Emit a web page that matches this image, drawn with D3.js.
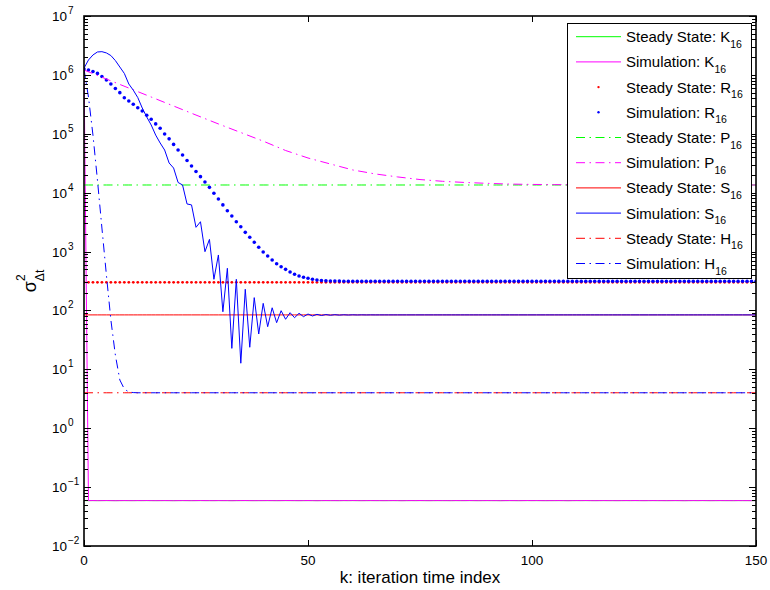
<!DOCTYPE html>
<html>
<head>
<meta charset="utf-8">
<script src="https://cdn.jsdelivr.net/npm/d3@7"></script>
<style>
  body { margin: 0; background: #fff; }
  svg { display: block; font-family: "Liberation Sans", Arial, Helvetica, sans-serif; }
</style>
</head>
<body>
<svg id="chart" width="770" height="590"></svg>
<script>
// ---- data ---------------------------------------------------------------
// iteration index k = 0 .. 150
const iterations = d3.range(0, 151);

// steady-state variances (constant over k)
const steadyK = 0.059;
const steadyR = 300;
const steadyP = 1.35e4;
const steadyS = 84;
const steadyH = 4.0;

// simulated variance of K, one value per iteration
const simK = [
  1.3e6, 0.0590, 0.0591, 0.0589, 0.0590, 0.0592, 0.0590, 0.0588, 0.0590, 0.0591,
  0.0590, 0.0589, 0.0591, 0.0590, 0.0592, 0.0590, 0.0589, 0.0590, 0.0591, 0.0590,
  0.0588, 0.0590, 0.0591, 0.0590, 0.0589, 0.0590, 0.0592, 0.0590, 0.0590, 0.0589,
  0.0591, 0.0590, 0.0590, 0.0588, 0.0590, 0.0591, 0.0592, 0.0590, 0.0589, 0.0590,
  0.0590, 0.0591, 0.0590, 0.0589, 0.0590, 0.0592, 0.0591, 0.0590, 0.0589, 0.0590,
  0.0591, 0.0590, 0.0588, 0.0590, 0.0591, 0.0590, 0.0590, 0.0589, 0.0591, 0.0590,
  0.0592, 0.0590, 0.0589, 0.0590, 0.0591, 0.0590, 0.0590, 0.0589, 0.0590, 0.0591,
  0.0590, 0.0588, 0.0590, 0.0591, 0.0590, 0.0592, 0.0590, 0.0589, 0.0590, 0.0591,
  0.0590, 0.0590, 0.0589, 0.0591, 0.0590, 0.0590, 0.0592, 0.0590, 0.0589, 0.0590,
  0.0591, 0.0590, 0.0590, 0.0588, 0.0590, 0.0591, 0.0590, 0.0589, 0.0590, 0.0592,
  0.0590, 0.0591, 0.0590, 0.0589, 0.0590, 0.0590, 0.0591, 0.0590, 0.0588, 0.0590,
  0.0591, 0.0590, 0.0592, 0.0590, 0.0589, 0.0590, 0.0591, 0.0590, 0.0590, 0.0589,
  0.0590, 0.0591, 0.0590, 0.0592, 0.0590, 0.0589, 0.0590, 0.0591, 0.0590, 0.0590,
  0.0589, 0.0590, 0.0591, 0.0590, 0.0588, 0.0590, 0.0591, 0.0590, 0.0592, 0.0590,
  0.0589, 0.0590, 0.0591, 0.0590, 0.0590, 0.0589, 0.0591, 0.0590, 0.0590, 0.0589,
  0.0590
];

// simulated variance of R
const simR = [
  1.26e6, 1.21e6, 1.14e6, 1.06e6, 9.4e5, 8.2e5, 7.0e5, 5.87e5, 4.99e5, 4.10e5,
  3.61e5, 3.17e5, 2.77e5, 2.44e5, 2.06e5, 1.76e5, 1.47e5, 1.24e5, 9.9e4, 8.2e4,
  6.6e4, 5.3e4, 4.36e4, 3.52e4, 2.84e4, 2.29e4, 1.87e4, 1.52e4, 1.23e4, 9.8e3,
  7.8e3, 6.2e3, 4.94e3, 4.02e3, 3.21e3, 2.64e3, 2.12e3, 1.75e3, 1.44e3, 1.18e3,
  982, 840, 719, 622, 553, 499, 450, 411, 385, 366,
  352, 338, 329, 322, 318, 316, 315, 315, 314, 314,
  314, 314, 314, 314, 314, 314, 314, 314, 314, 314,
  314, 314, 314, 314, 314, 314, 314, 314, 314, 314,
  314, 314, 314, 314, 314, 314, 314, 314, 314, 314,
  314, 314, 314, 314, 314, 314, 314, 314, 314, 314,
  314, 314, 314, 314, 314, 314, 314, 314, 314, 314,
  314, 314, 314, 314, 314, 314, 314, 314, 314, 314,
  314, 314, 314, 314, 314, 314, 314, 314, 314, 314,
  314, 314, 314, 314, 314, 314, 314, 314, 314, 314,
  314, 314, 314, 314, 314, 314, 314, 314, 314, 314,
  314
];

// simulated variance of P, every fifth iteration
const simPIter = [
  0, 5, 10, 15, 20, 25, 30, 35, 40, 45,
  50, 55, 60, 65, 70, 75, 80, 85, 90, 95,
  100, 105, 110, 115, 120, 125, 130, 135, 140, 145, 150
];
const simP = [
  1.21e6, 8.5e5, 5.98e5, 4.21e5, 2.96e5, 2.08e5, 1.47e5, 1.05e5, 7.5e4, 5.2e4,
  3.88e4, 3.07e4, 2.43e4, 2.08e4, 1.85e4, 1.67e4, 1.56e4, 1.49e4, 1.44e4, 1.40e4,
  1.38e4, 1.37e4, 1.36e4, 1.36e4, 1.355e4, 1.35e4, 1.35e4, 1.35e4, 1.35e4, 1.35e4, 1.35e4
];

// simulated variance of S
const simS = [
  1.3e6, 1.79e6, 2.18e6, 2.45e6, 2.48e6, 2.36e6, 2.13e6, 1.75e6, 1.36e6, 1.06e6,
  7.0e5, 5.5e5, 4.13e5, 2.74e5, 1.93e5, 1.41e5, 9.5e4, 6.97e4, 5.3e4, 3.19e4,
  2.62e4, 1.49e4, 1.35e4, 6.43e3, 6.2e3, 2.58e3, 3.21e3, 995, 1.61e3, 338,
  875, 95, 520, 22.7, 338, 12.7, 229, 23.7, 165, 39.8,
  132, 53, 111, 62, 99, 70.8, 91.6, 75.3, 89.5, 78.4,
  87, 80.5, 85.9, 82, 85.2, 82.8, 84.8, 83.2, 84.5, 83.5,
  84.3, 83.7, 84.2, 83.8, 84.1, 83.9, 84, 84, 84, 84,
  84, 84, 84, 84, 84, 84, 84, 84, 84, 84,
  84, 84, 84, 84, 84, 84, 84, 84, 84, 84,
  84, 84, 84, 84, 84, 84, 84, 84, 84, 84,
  84, 84, 84, 84, 84, 84, 84, 84, 84, 84,
  84, 84, 84, 84, 84, 84, 84, 84, 84, 84,
  84, 84, 84, 84, 84, 84, 84, 84, 84, 84,
  84, 84, 84, 84, 84, 84, 84, 84, 84, 84,
  84, 84, 84, 84, 84, 84, 84, 84, 84, 84,
  84
];

// simulated variance of H
const simH = [
  1.26e6, 4.2e5, 9.5e4, 1.64e4, 2.51e3, 400, 68.9, 17.5, 6.59, 4.64,
  4.12, 4.03, 4.0, 4.0, 4.0, 4.0, 4.0, 4.0, 4.0, 4.0,
  4.0, 4.0, 4.0, 4.0, 4.0, 4.0, 4.0, 4.0, 4.0, 4.0,
  4.0, 4.0, 4.0, 4.0, 4.0, 4.0, 4.0, 4.0, 4.0, 4.0,
  4.0, 4.0, 4.0, 4.0, 4.0, 4.0, 4.0, 4.0, 4.0, 4.0,
  4.0, 4.0, 4.0, 4.0, 4.0, 4.0, 4.0, 4.0, 4.0, 4.0,
  4.0, 4.0, 4.0, 4.0, 4.0, 4.0, 4.0, 4.0, 4.0, 4.0,
  4.0, 4.0, 4.0, 4.0, 4.0, 4.0, 4.0, 4.0, 4.0, 4.0,
  4.0, 4.0, 4.0, 4.0, 4.0, 4.0, 4.0, 4.0, 4.0, 4.0,
  4.0, 4.0, 4.0, 4.0, 4.0, 4.0, 4.0, 4.0, 4.0, 4.0,
  4.0, 4.0, 4.0, 4.0, 4.0, 4.0, 4.0, 4.0, 4.0, 4.0,
  4.0, 4.0, 4.0, 4.0, 4.0, 4.0, 4.0, 4.0, 4.0, 4.0,
  4.0, 4.0, 4.0, 4.0, 4.0, 4.0, 4.0, 4.0, 4.0, 4.0,
  4.0, 4.0, 4.0, 4.0, 4.0, 4.0, 4.0, 4.0, 4.0, 4.0,
  4.0, 4.0, 4.0, 4.0, 4.0, 4.0, 4.0, 4.0, 4.0, 4.0,
  4.0
];

// axis ticks and labels
const xTicks = [0, 50, 100, 150];
const yDecadeExponents = [-2, -1, 0, 1, 2, 3, 4, 5, 6, 7];

// legend entries
const legendPrefixes = [
  "Steady State: K", "Simulation: K", "Steady State: R", "Simulation: R",
  "Steady State: P", "Simulation: P", "Steady State: S", "Simulation: S",
  "Steady State: H", "Simulation: H"
];
const legendSubscript = "16";

// ---- layout -------------------------------------------------------------
const svg = d3.select("#chart");
const plot = { left: 84, right: 756, top: 16, bottom: 546 };

const x = d3.scaleLinear().domain([0, 150]).range([plot.left, plot.right]);
const y = d3.scaleLog().domain([1e-2, 1e7]).range([plot.bottom, plot.top]);

const GREEN = "#00ff00", MAGENTA = "#ff00ff", RED = "#ff0000", BLUE = "#0000ff";
const DASHDOT = "9,4.5,1.5,4.5";

// series in drawing order, with their styles
const constSeries = v => iterations.map(k => ({ k, v }));
const zipSeries = (ks, vs) => ks.map((k, i) => ({ k, v: vs[i] }));

const series = [
  { data: constSeries(steadyK), color: GREEN, kind: "line" },
  { data: zipSeries(iterations, simK), color: MAGENTA, kind: "line" },
  { data: constSeries(steadyR), color: RED, kind: "dot", r: 1.4, lr: 1.2 },
  { data: zipSeries(iterations, simR), color: BLUE, kind: "dot", r: 1.8, lr: 1.2 },
  { data: constSeries(steadyP), color: GREEN, kind: "line", dash: DASHDOT },
  { data: zipSeries(simPIter, simP), color: MAGENTA, kind: "line", dash: DASHDOT },
  { data: constSeries(steadyS), color: RED, kind: "line" },
  { data: zipSeries(iterations, simS), color: BLUE, kind: "line" },
  { data: constSeries(steadyH), color: RED, kind: "line", dash: DASHDOT },
  { data: zipSeries(iterations, simH), color: BLUE, kind: "line", dash: DASHDOT }
];

// clip region for the data
svg.append("defs").append("clipPath").attr("id", "plotClip")
  .append("rect")
  .attr("x", plot.left).attr("y", plot.top)
  .attr("width", plot.right - plot.left).attr("height", plot.bottom - plot.top);

svg.append("rect").attr("x", 0).attr("y", 0).attr("width", 770).attr("height", 590).attr("fill", "#fff");

const dataLayer = svg.append("g").attr("clip-path", "url(#plotClip)");
const line = d3.line().x(d => x(d.k)).y(d => y(d.v));

series.forEach(s => {
  if (s.kind === "line") {
    dataLayer.append("path")
      .attr("d", line(s.data))
      .attr("fill", "none")
      .attr("stroke", s.color)
      .attr("stroke-width", 1)
      .attr("stroke-dasharray", s.dash || null);
  } else {
    dataLayer.append("g").selectAll("circle").data(s.data).join("circle")
      .attr("cx", d => x(d.k)).attr("cy", d => y(d.v))
      .attr("r", s.r).attr("fill", s.color);
  }
});

// ---- axes box and ticks -------------------------------------------------
const axisG = svg.append("g").attr("stroke", "#000");
const majorLen = 7, minorLen = 4;

y.ticks().forEach(t => {
  const e = Math.log10(t);
  const major = Math.abs(e - Math.round(e)) < 1e-9;
  const len = major ? majorLen : minorLen;
  const yy = Math.round(y(t)) + 0.5;
  axisG.append("line").attr("x1", plot.left).attr("x2", plot.left + len)
    .attr("y1", yy).attr("y2", yy).attr("stroke-width", 1);
  axisG.append("line").attr("x1", plot.right).attr("x2", plot.right - len)
    .attr("y1", yy).attr("y2", yy).attr("stroke-width", 1);
});

xTicks.forEach(t => {
  const xx = Math.round(x(t)) + 0.5;
  axisG.append("line").attr("x1", xx).attr("x2", xx)
    .attr("y1", plot.bottom).attr("y2", plot.bottom - 6).attr("stroke-width", 1);
  axisG.append("line").attr("x1", xx).attr("x2", xx)
    .attr("y1", plot.top).attr("y2", plot.top + 6).attr("stroke-width", 1);
});

axisG.append("rect")
  .attr("x", plot.left).attr("y", plot.top)
  .attr("width", plot.right - plot.left).attr("height", plot.bottom - plot.top)
  .attr("fill", "none").attr("stroke-width", 1.6);

// tick labels
const tickFont = 13.5;
xTicks.forEach(t => {
  svg.append("text")
    .attr("x", x(t)).attr("y", plot.bottom + 19)
    .attr("text-anchor", "middle")
    .attr("font-size", tickFont)
    .attr("fill", "#000")
    .text(t);
});

yDecadeExponents.forEach(e => {
  const yy = y(Math.pow(10, e));
  svg.append("text")
    .attr("x", plot.left - 17).attr("y", yy + 5)
    .attr("text-anchor", "end")
    .attr("font-size", tickFont)
    .attr("fill", "#000")
    .text("10");
  svg.append("text")
    .attr("x", plot.left - 16).attr("y", yy - 2)
    .attr("text-anchor", "start")
    .attr("font-size", 10)
    .attr("fill", "#000")
    .text(e < 0 ? "\u2212" + Math.abs(e) : String(e));
});

// axis titles
svg.append("text")
  .attr("x", (plot.left + plot.right) / 2).attr("y", plot.bottom + 37)
  .attr("text-anchor", "middle")
  .attr("font-size", 17)
  .attr("fill", "#000")
  .text("k: iteration time index");

const yTitle = svg.append("text")
  .attr("transform", `translate(36,${(plot.top + plot.bottom) / 2}) rotate(-90)`)
  .attr("text-anchor", "middle")
  .attr("fill", "#000");
yTitle.append("tspan").attr("font-size", 18).text("\u03c3");
yTitle.append("tspan").attr("font-size", 12).attr("dy", -11).text("2");
yTitle.append("tspan").attr("font-size", 12).attr("dx", -6.7).attr("dy", 19).text("\u0394t");

// ---- legend -------------------------------------------------------------
const lg = { x: 567, y: 23, w: 184, h: 255, row0: 36.7, step: 25.2 };
const legend = svg.append("g");
legend.append("rect")
  .attr("x", lg.x + 0.5).attr("y", lg.y + 0.5)
  .attr("width", lg.w).attr("height", lg.h)
  .attr("fill", "#fff").attr("stroke", "#000").attr("stroke-width", 1);

series.forEach((s, i) => {
  const cy = lg.row0 + i * lg.step;
  if (s.kind === "line") {
    legend.append("line")
      .attr("x1", 576).attr("x2", 621).attr("y1", cy).attr("y2", cy)
      .attr("stroke", s.color).attr("stroke-width", 1)
      .attr("stroke-dasharray", s.dash || null);
  } else {
    legend.append("circle").attr("cx", 598.5).attr("cy", cy).attr("r", s.lr).attr("fill", s.color);
  }
  const t = legend.append("text")
    .attr("x", 626).attr("y", cy + 5.5)
    .attr("font-size", 15).attr("fill", "#000");
  t.append("tspan").text(legendPrefixes[i]);
  t.append("tspan").attr("font-size", 10.5).attr("dy", 5.5).text(legendSubscript);
});
</script>
</body>
</html>
